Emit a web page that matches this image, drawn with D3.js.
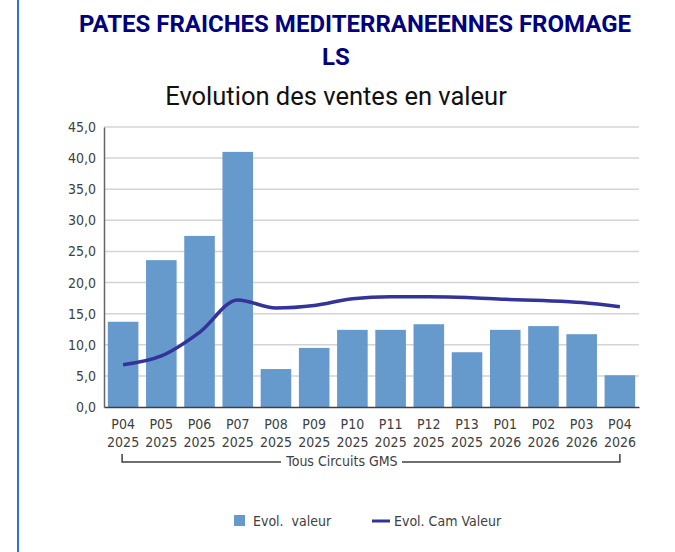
<!DOCTYPE html>
<html>
<head>
<meta charset="utf-8">
<script src="https://cdn.jsdelivr.net/npm/d3@7"></script>
<style>
	body { margin: 0; background: #fff; }
	svg { display: block; }
</style>
</head>
<body>
<svg id="chart" width="675" height="552"></svg>
<script>

	//DATA

	var periods = ["P04", "P05", "P06", "P07", "P08", "P09", "P10", "P11", "P12", "P13", "P01", "P02", "P03", "P04"];
	var years = ["2025", "2025", "2025", "2025", "2025", "2025", "2025", "2025", "2025", "2025", "2026", "2026", "2026", "2026"];
	var evolValeur = [13.7, 23.6, 27.5, 41.0, 6.1, 9.5, 12.4, 12.4, 13.3, 8.8, 12.4, 13.0, 11.7, 5.1];
	var evolCamValeur = [6.8, 8.2, 12.0, 17.2, 15.9, 16.3, 17.4, 17.7, 17.7, 17.6, 17.3, 17.1, 16.8, 16.1];
	var yTicks = [0, 5, 10, 15, 20, 25, 30, 35, 40, 45];

	var font = "'DejaVu Sans Condensed', 'Liberation Sans Narrow', 'Noto Sans', sans-serif";

	//LAYOUT

	var margin = { top: 127, left: 104, right: 36, bottom: 145 };
	var width = 675 - margin.left - margin.right;
	var height = 552 - margin.top - margin.bottom;

	var svg = d3.select("#chart");

	//left border
	svg.append("line")
		.attr("x1", 18).attr("x2", 18)
		.attr("y1", 0).attr("y2", 552)
		.attr("stroke", "#2f74d0")
		.attr("stroke-width", 2);

	//titles
	svg.append("text")
		.attr("x", 355).attr("y", 32)
		.attr("text-anchor", "middle")
		.attr("font-family", "Roboto, 'Noto Sans', sans-serif")
		.attr("font-weight", "bold")
		.attr("font-size", "24px")
		.attr("fill", "#000080")
		.text("PATES FRAICHES MEDITERRANEENNES FROMAGE");

	svg.append("text")
		.attr("x", 336).attr("y", 65)
		.attr("text-anchor", "middle")
		.attr("font-family", "Roboto, 'Noto Sans', sans-serif")
		.attr("font-weight", "bold")
		.attr("font-size", "24px")
		.attr("fill", "#000080")
		.text("LS");

	svg.append("text")
		.attr("x", 336).attr("y", 105)
		.attr("text-anchor", "middle")
		.attr("font-family", "Roboto, 'Noto Sans', sans-serif")
		.attr("font-size", "25.5px")
		.attr("fill", "#111")
		.text("Evolution des ventes en valeur");

	var g = svg.append("g")
		.attr("transform", "translate(" + margin.left + "," + margin.top + ")");

	//scales
	var xScale = d3.scaleBand()
		.domain(d3.range(periods.length))
		.range([0, width])
		.paddingInner(0.2)
		.paddingOuter(0.1);

	var yScale = d3.scaleLinear()
		.domain([0, 45])
		.range([height, 0]);

	//gridlines
	g.selectAll("line.grid")
		.data(yTicks.slice(1))
		.enter()
		.append("line")
		.attr("class", "grid")
		.attr("x1", 0).attr("x2", width)
		.attr("y1", d => yScale(d)).attr("y2", d => yScale(d))
		.attr("stroke", "#d4d4d4")
		.attr("stroke-width", 1.5);

	//bars
	g.selectAll("rect.bar")
		.data(evolValeur)
		.enter()
		.append("rect")
		.attr("class", "bar")
		.attr("x", (d, i) => xScale(i))
		.attr("y", d => yScale(d))
		.attr("width", xScale.bandwidth())
		.attr("height", d => height - yScale(d))
		.attr("fill", "#6699cc");

	//cam line
	var line = d3.line()
		.x((d, i) => xScale(i) + xScale.bandwidth() / 2)
		.y(d => yScale(d))
		.curve(d3.curveMonotoneX);

	g.append("path")
		.datum(evolCamValeur)
		.attr("d", line)
		.attr("fill", "none")
		.attr("stroke", "#333399")
		.attr("stroke-width", 3.5);

	//y axis
	var yAxis = d3.axisLeft(yScale)
		.tickValues(yTicks)
		.tickSize(0)
		.tickPadding(8)
		.tickFormat(d => d3.format(".1f")(d).replace(".", ","));

	var ya = g.append("g")
		.attr("class", "yAxis")
		.call(yAxis);
	ya.select(".domain").attr("stroke", "#666").attr("stroke-width", 1.5);
	ya.selectAll("text")
		.attr("font-family", font)
		.attr("font-size", "14px")
		.attr("fill", "#404040");

	//x axis
	var xAxis = d3.axisBottom(xScale)
		.tickSize(0)
		.tickFormat(() => "");

	var xa = g.append("g")
		.attr("class", "xAxis")
		.attr("transform", "translate(0," + height + ")")
		.call(xAxis);
	xa.select(".domain").attr("stroke", "#404040").attr("stroke-width", 1.5);

	var labels = xa.selectAll(".tick text")
		.attr("font-family", font)
		.attr("font-size", "14px")
		.attr("fill", "#404040")
		.attr("y", 0)
		.attr("dy", 0);
	labels.append("tspan").attr("x", 0).attr("y", 22).text(i => periods[i]);
	labels.append("tspan").attr("x", 0).attr("y", 40).text(i => years[i]);

	//group bracket
	var bx0 = xScale(0) + xScale.bandwidth() / 2 - 1;
	var bx1 = xScale(periods.length - 1) + xScale.bandwidth() / 2;
	var by = height + 55;
	var mid = (bx0 + bx1) / 2;

	g.append("path")
		.attr("d", "M" + bx0 + "," + (by - 8) + "V" + by + "H" + (mid - 90) +
			"M" + (mid + 31) + "," + by + "H" + bx1 + "V" + (by - 8))
		.attr("fill", "none")
		.attr("stroke", "#404040")
		.attr("stroke-width", 1.5);

	g.append("text")
		.attr("x", mid - 29).attr("y", by + 4)
		.attr("text-anchor", "middle")
		.attr("font-family", font)
		.attr("font-size", "14px")
		.attr("fill", "#404040")
		.text("Tous Circuits GMS");

	//legend
	var legend = svg.append("g").attr("transform", "translate(0,521)");

	legend.append("rect")
		.attr("x", 234).attr("y", -6)
		.attr("width", 11).attr("height", 11)
		.attr("fill", "#6699cc");
	legend.append("text")
		.attr("x", 253).attr("y", 5)
		.attr("font-family", font)
		.attr("font-size", "14px")
		.attr("fill", "#404040")
		.attr("xml:space", "preserve")
		.text("Evol.  valeur");

	legend.append("line")
		.attr("x1", 372).attr("x2", 390)
		.attr("y1", 0).attr("y2", 0)
		.attr("stroke", "#333399")
		.attr("stroke-width", 3);
	legend.append("text")
		.attr("x", 394).attr("y", 5)
		.attr("font-family", font)
		.attr("font-size", "14px")
		.attr("fill", "#404040")
		.text("Evol. Cam Valeur");

</script>
</body>
</html>
